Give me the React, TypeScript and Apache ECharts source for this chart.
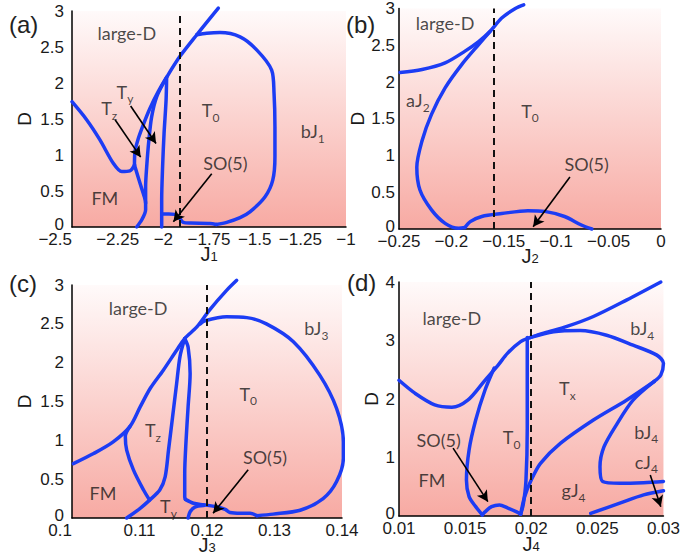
import React, { useEffect, useRef } from "react";
import * as echarts from "echarts";

// ---------- Panel (a): D vs J1 ----------
const aFMLeft = [[-2.5, 1.74], [-2.42, 1.49], [-2.347, 1.21], [-2.274, 0.885], [-2.228, 0.77], [-2.183, 0.78], [-2.158, 0.86]];
const aLargeD = [[-2.158, 0.86], [-2.155, 1.05], [-2.137, 1.23], [-2.11, 1.42], [-2.073, 1.65], [-2.028, 1.88], [-1.982, 2.08], [-1.909, 2.37], [-1.817, 2.67], [-1.699, 3.04]];
const aTzLeft = [[-2.158, 0.86], [-2.128, 0.61], [-2.104, 0.42], [-2.097, 0.33], [-2.097, 0.24], [-2.118, 0.1], [-2.146, 0.0]];
const aTzRight = [[-1.982, 2.08], [-2.036, 1.81], [-2.064, 1.53], [-2.079, 1.21], [-2.091, 0.84], [-2.097, 0.56], [-2.097, 0.33]];
const aVertical = [[-1.982, 2.08], [-1.985, 1.76], [-1.996, 1.3], [-2.004, 0.84], [-2.009, 0.375], [-2.009, 0.17], [-2.009, 0.0]];
const aBubble = [[-1.817, 2.67], [-1.763, 2.69], [-1.69, 2.7], [-1.58, 2.64], [-1.489, 2.46], [-1.407, 2.18], [-1.394, 1.86], [-1.389, 1.39], [-1.389, 0.98], [-1.401, 0.65], [-1.443, 0.42], [-1.526, 0.21], [-1.58, 0.13], [-1.653, 0.065], [-1.71, 0.035]];
const aSO5 = [[-2.009, 0.18], [-1.97, 0.18], [-1.936, 0.175], [-1.91, 0.12], [-1.891, 0.065], [-1.85, 0.055], [-1.745, 0.05], [-1.71, 0.035]];
const aDashed = -1.909;
const aArrows = [[[-2.264, 1.49], [-2.124, 0.97]], [[-2.179, 1.68], [-2.04, 1.16]], [[-1.735, 0.74], [-1.945, 0.074]]];
const aLabels = ["large-D", "T_y", "T_z", "T_0", "SO(5)", "FM", "bJ_1"];
const aLabelPos = [[-2.2, 2.69], [-2.21, 1.88], [-2.296, 1.65], [-1.741, 1.625], [-1.66, 0.885], [-2.32, 0.4], [-1.182, 1.33]];

// ---------- Panel (b): D vs J2 ----------
const bUpper = [[-0.249, 2.13], [-0.228, 2.17], [-0.206, 2.26], [-0.187, 2.42], [-0.174, 2.55], [-0.163, 2.69], [-0.152, 2.87], [-0.139, 3.0], [-0.131, 3.05]];
const bAJ2 = [[-0.163, 2.69], [-0.174, 2.51], [-0.19, 2.24], [-0.206, 1.92], [-0.219, 1.56], [-0.228, 1.2], [-0.233, 0.84], [-0.23, 0.53], [-0.219, 0.26], [-0.206, 0.077], [-0.193, 0.01], [-0.187, 0.02]];
const bSO5 = [[-0.187, 0.02], [-0.182, 0.1], [-0.171, 0.17], [-0.152, 0.21], [-0.127, 0.25], [-0.111, 0.24], [-0.092, 0.17], [-0.076, 0.054], [-0.066, 0.0]];
const bDashed = -0.1616;
const bArrows = [[[-0.0869, 0.707], [-0.122, 0.031]]];
const bLabels = ["large-D", "aJ_2", "T_0", "SO(5)"];
const bLabelPos = [[-0.206, 2.8], [-0.232, 1.75], [-0.125, 1.61], [-0.071, 0.89]];

// ---------- Panel (c): D vs J3 ----------
const cLargeD = [[0.1002, 0.7], [0.1032, 0.83], [0.1061, 0.98], [0.1086, 1.18], [0.1101, 1.43], [0.1116, 1.67], [0.1135, 1.9], [0.1155, 2.16], [0.1167, 2.31], [0.1185, 2.46], [0.1204, 2.68], [0.1229, 2.93], [0.1244, 3.06]];
const cBubble = [[0.119, 2.5], [0.1197, 2.54], [0.1229, 2.59], [0.1259, 2.58], [0.1288, 2.5], [0.1328, 2.27], [0.1367, 1.84], [0.1392, 1.41], [0.1402, 0.98], [0.1402, 0.77], [0.1392, 0.47], [0.1372, 0.25], [0.1338, 0.1], [0.1298, 0.05], [0.1274, 0.03]];
const cVertical = [[0.1167, 2.31], [0.1172, 2.2], [0.1175, 1.86], [0.1172, 1.43], [0.1169, 1.0], [0.1167, 0.575], [0.1167, 0.27], [0.1168, 0.24]];
const cSO5 = [[0.1168, 0.24], [0.118, 0.19], [0.1195, 0.17], [0.1214, 0.145], [0.1227, 0.11], [0.1234, 0.07], [0.125, 0.06], [0.1264, 0.06], [0.1274, 0.03]];
const cBump = [[0.1172, 0.0], [0.1175, 0.08], [0.1182, 0.14], [0.1195, 0.16]];
const cTzLeft = [[0.1086, 1.18], [0.1079, 1.05], [0.1081, 0.875], [0.1091, 0.62], [0.1106, 0.36], [0.1115, 0.23]];
const cTzRight = [[0.1167, 2.31], [0.116, 2.08], [0.1155, 1.73], [0.1149, 1.3], [0.1143, 0.875], [0.1138, 0.53], [0.113, 0.36], [0.1115, 0.23], [0.1101, 0.125], [0.1081, 0.0]];
const cDashed = 0.1187;
const cArrows = [[[0.1261, 0.62], [0.1209, 0.06]]];
const cLabels = ["large-D", "bJ_3", "T_0", "T_z", "SO(5)", "FM", "T_y"];
const cLabelPos = [[0.1098, 2.7], [0.1362, 2.44], [0.1261, 1.6], [0.112, 1.13], [0.1286, 0.79], [0.1046, 0.32], [0.1143, 0.15]];

// ---------- Panel (d): D vs J4 ----------
const dLargeD = [[0.01, 2.32], [0.0112, 2.1], [0.0127, 1.9], [0.014, 1.86], [0.0152, 1.98], [0.0165, 2.32], [0.0175, 2.58], [0.0182, 2.78], [0.0192, 2.98], [0.0199, 3.05]];
const dUpper = [[0.0199, 3.05], [0.021, 3.13], [0.0227, 3.24], [0.0247, 3.41], [0.0272, 3.69], [0.0298, 4.0]];
const dTxTop = [[0.0199, 3.05], [0.0217, 3.15], [0.0237, 3.17], [0.0257, 3.09], [0.0277, 2.92], [0.0295, 2.75], [0.03, 2.61], [0.0298, 2.41], [0.0293, 2.3]];
const dTxLower = [[0.0293, 2.3], [0.0272, 1.98], [0.0247, 1.64], [0.0222, 1.24], [0.0207, 0.9], [0.02, 0.615], [0.0195, 0.33], [0.0192, 0.03]];
const dBJ4Lower = [[0.0293, 2.3], [0.0277, 1.98], [0.0265, 1.58], [0.0255, 1.18], [0.0252, 0.84], [0.0254, 0.59], [0.0267, 0.56], [0.0285, 0.57], [0.03, 0.59]];
const dCJ4 = [[0.0245, 0.046], [0.0267, 0.22], [0.0285, 0.36], [0.03, 0.43]];
const dVertical = [[0.0197, 3.05], [0.0197, 1.5], [0.0196, 0.6], [0.0194, 0.2], [0.0192, 0.03]];
const dFM = [[0.0172, 2.53], [0.0165, 2.15], [0.0158, 1.64], [0.0153, 1.13], [0.0151, 0.615], [0.0153, 0.33], [0.0158, 0.16], [0.0163, 0.02]];
const dSO5 = [[0.0163, 0.02], [0.0165, 0.07], [0.017, 0.16], [0.0176, 0.19], [0.0182, 0.14], [0.0189, 0.07], [0.0192, 0.03]];
const dDashed = 0.01759;
const dArrows = [[[0.01409, 1.16], [0.01672, 0.245]], [[0.029, 0.7], [0.0298, 0.16]]];
const dLabels = ["large-D", "bJ_4", "T_x", "T_0", "bJ_4", "cJ_4", "SO(5)", "FM", "gJ_4"];
const dLabelPos = [[0.014, 3.38], [0.0284, 3.21], [0.02273, 2.18], [0.01852, 1.345], [0.0287, 1.44], [0.0287, 0.93], [0.013, 1.3], [0.0125, 0.615], [0.0232, 0.44]];

// ---------- Axes ----------
const xNames = ["J_1", "J_2", "J_3", "J_4"];
const xRanges = [[-2.5, -1, 0.25], [-0.25, 0, 0.05], [0.1, 0.14, 0.01], [0.01, 0.03, 0.005]];
const yRanges = [[0, 3, 0.5], [0, 3, 0.5], [0, 3, 0.5], [0, 4, 1]];
const panelTags = ["(a)", "(b)", "(c)", "(d)"];

const BLUE = "#1c3cf4";
const INK = "#1a1a1a";
const LABEL_FONT = "Lato";
const TICK_FONT = "Liberation Sans";

const richText = (s: string) => {
  const i = s.indexOf("_");
  return i >= 0 ? `{m|${s.slice(0, i)}}{s|${s.slice(i + 1)}}` : `{m|${s}}`;
};

const labelRich = {
  m: { fontSize: 18, fontFamily: LABEL_FONT, color: INK, lineHeight: 26 },
  s: { fontSize: 12, fontFamily: LABEL_FONT, color: INK, lineHeight: 14, verticalAlign: "bottom" },
};

const nameRich = {
  m: { fontSize: 20, fontFamily: TICK_FONT, color: INK, lineHeight: 18 },
  s: { fontSize: 13, fontFamily: TICK_FONT, color: INK, lineHeight: 2, verticalAlign: "bottom" },
};

const zeroRich = {
  z: { fontSize: 17, fontFamily: TICK_FONT, color: INK, lineHeight: 8, padding: [0, 0, 6, 0] },
};

const fmt = (v: number) => parseFloat(Number(v).toPrecision(6)).toString().replace("-", "\u2212");
const fmtY = (v: number) => (Math.abs(v) < 1e-9 ? "{z|0}" : fmt(v));

function curve(data: number[][], gi: number, extra: any = {}) {
  return {
    type: "line",
    xAxisIndex: gi,
    yAxisIndex: gi,
    data,
    smooth: 0.3,
    symbol: "none",
    showSymbol: false,
    clip: false,
    silent: true,
    z: 3,
    lineStyle: { color: BLUE, width: 3.5, cap: "round", join: "round" },
    ...extra,
  };
}

function dashed(v: number, gi: number) {
  return {
    type: "line",
    xAxisIndex: gi,
    yAxisIndex: gi,
    data: [],
    silent: true,
    z: 2,
    markLine: {
      silent: true,
      symbol: "none",
      label: { show: false },
      lineStyle: { color: "#111", width: 2, type: [7, 5] },
      data: [{ xAxis: v }],
    },
  };
}

function arrows(list: number[][][], gi: number) {
  return {
    type: "line",
    xAxisIndex: gi,
    yAxisIndex: gi,
    data: [],
    silent: true,
    z: 4,
    markLine: {
      silent: true,
      symbol: ["none", "arrow"],
      symbolSize: [9, 11],
      label: { show: false },
      lineStyle: { color: "#000", width: 1.6, type: "solid" },
      data: list.map((p) => [{ coord: p[0] }, { coord: p[1] }]),
    },
  };
}

function labels(texts: string[], pos: number[][], gi: number) {
  return {
    type: "scatter",
    xAxisIndex: gi,
    yAxisIndex: gi,
    symbolSize: 0,
    silent: true,
    z: 5,
    data: texts.map((t, i) => ({ value: pos[i], t: richText(t) })),
    label: {
      show: true,
      position: "inside",
      formatter: (p: any) => p.data.t,
      rich: labelRich,
    },
  };
}

export default function App() {
  const ref = useRef<HTMLDivElement>(null);
  useEffect(() => {
    if (!ref.current) return;
    const chart = echarts.init(ref.current, undefined, { renderer: "svg" });
    const bg = new echarts.graphic.LinearGradient(0, 0, 0, 1, [
      { offset: 0, color: "#fffafa" },
      { offset: 1, color: "#f7aaa3" },
    ]);
    const grids = [
      { left: 72, top: 11, width: 274, height: 216 },
      { left: 399, top: 7, width: 262, height: 222 },
      { left: 72, top: 285, width: 270, height: 233 },
      { left: 399, top: 282, width: 266, height: 234 },
    ].map((g) => ({ ...g, show: true, backgroundColor: bg, borderWidth: 0 }));
    const yMargins = [8, 4, 8, 4];
    const yGaps = [38, 32, 38, 18];
    const xGaps = [18, 18, 18, 19];
    const minAlign = ["right", "center", "right", "center"];
    const xAxis = xRanges.map((r, i) => ({
      type: "value",
      gridIndex: i,
      min: r[0],
      max: r[1],
      interval: r[2],
      name: richText(xNames[i]),
      nameLocation: "middle",
      nameGap: xGaps[i],
      nameMoveOverlap: false,
      nameTextStyle: { rich: nameRich },
      axisLine: { show: true, onZero: false, lineStyle: { color: "#000", width: 1.5 } },
      axisTick: { show: false },
      splitLine: { show: false },
      axisLabel: {
        margin: 6,
        lineHeight: 12,
        fontSize: 17,
        fontFamily: TICK_FONT,
        color: INK,
        formatter: fmt,
        alignMinLabel: minAlign[i],
      },
    }));
    const yAxis = yRanges.map((r, i) => ({
      type: "value",
      gridIndex: i,
      min: r[0],
      max: r[1],
      interval: r[2],
      name: "D",
      nameLocation: "middle",
      nameGap: yGaps[i],
      nameMoveOverlap: false,
      nameTextStyle: { fontSize: 19, fontFamily: TICK_FONT, color: INK },
      axisLine: { show: true, onZero: false, lineStyle: { color: "#000", width: 1.5 } },
      axisTick: { show: false },
      splitLine: { show: false },
      axisLabel: {
        margin: yMargins[i],
        lineHeight: 8,
        fontSize: 17,
        fontFamily: TICK_FONT,
        color: INK,
        formatter: fmtY,
        rich: zeroRich,
      },
    }));
    const series: any[] = [
      curve(aFMLeft, 0), curve(aLargeD, 0), curve(aTzLeft, 0), curve(aTzRight, 0),
      curve(aVertical, 0), curve(aBubble, 0), curve(aSO5, 0),
      dashed(aDashed, 0), arrows(aArrows, 0), labels(aLabels, aLabelPos, 0),

      curve(bUpper, 1), curve(bAJ2, 1), curve(bSO5, 1),
      dashed(bDashed, 1), arrows(bArrows, 1), labels(bLabels, bLabelPos, 1),

      curve(cLargeD, 2), curve(cBubble, 2), curve(cVertical, 2), curve(cSO5, 2),
      curve(cBump, 2), curve(cTzLeft, 2), curve(cTzRight, 2),
      dashed(cDashed, 2), arrows(cArrows, 2), labels(cLabels, cLabelPos, 2),

      curve(dLargeD, 3), curve(dUpper, 3), curve(dTxTop, 3), curve(dTxLower, 3),
      curve(dBJ4Lower, 3), curve(dCJ4, 3), curve(dVertical, 3), curve(dFM, 3), curve(dSO5, 3),
      dashed(dDashed, 3), arrows(dArrows, 3), labels(dLabels, dLabelPos, 3),
    ];
    const tagPos = [[9, 12], [346, 12], [9, 271], [347, 270]];
    chart.setOption({
      animation: false,
      backgroundColor: "#ffffff",
      grid: grids,
      xAxis,
      yAxis,
      series,
      graphic: panelTags.map((t, i) => ({
        type: "text",
        left: tagPos[i][0],
        top: tagPos[i][1],
        style: { text: t, fontSize: 24, fontFamily: TICK_FONT, fill: "#222" },
      })),
    });
    return () => chart.dispose();
  }, []);
  return <div ref={ref} style={{ position: "absolute", left: 0, top: 0, width: 683, height: 560 }} />;
}
